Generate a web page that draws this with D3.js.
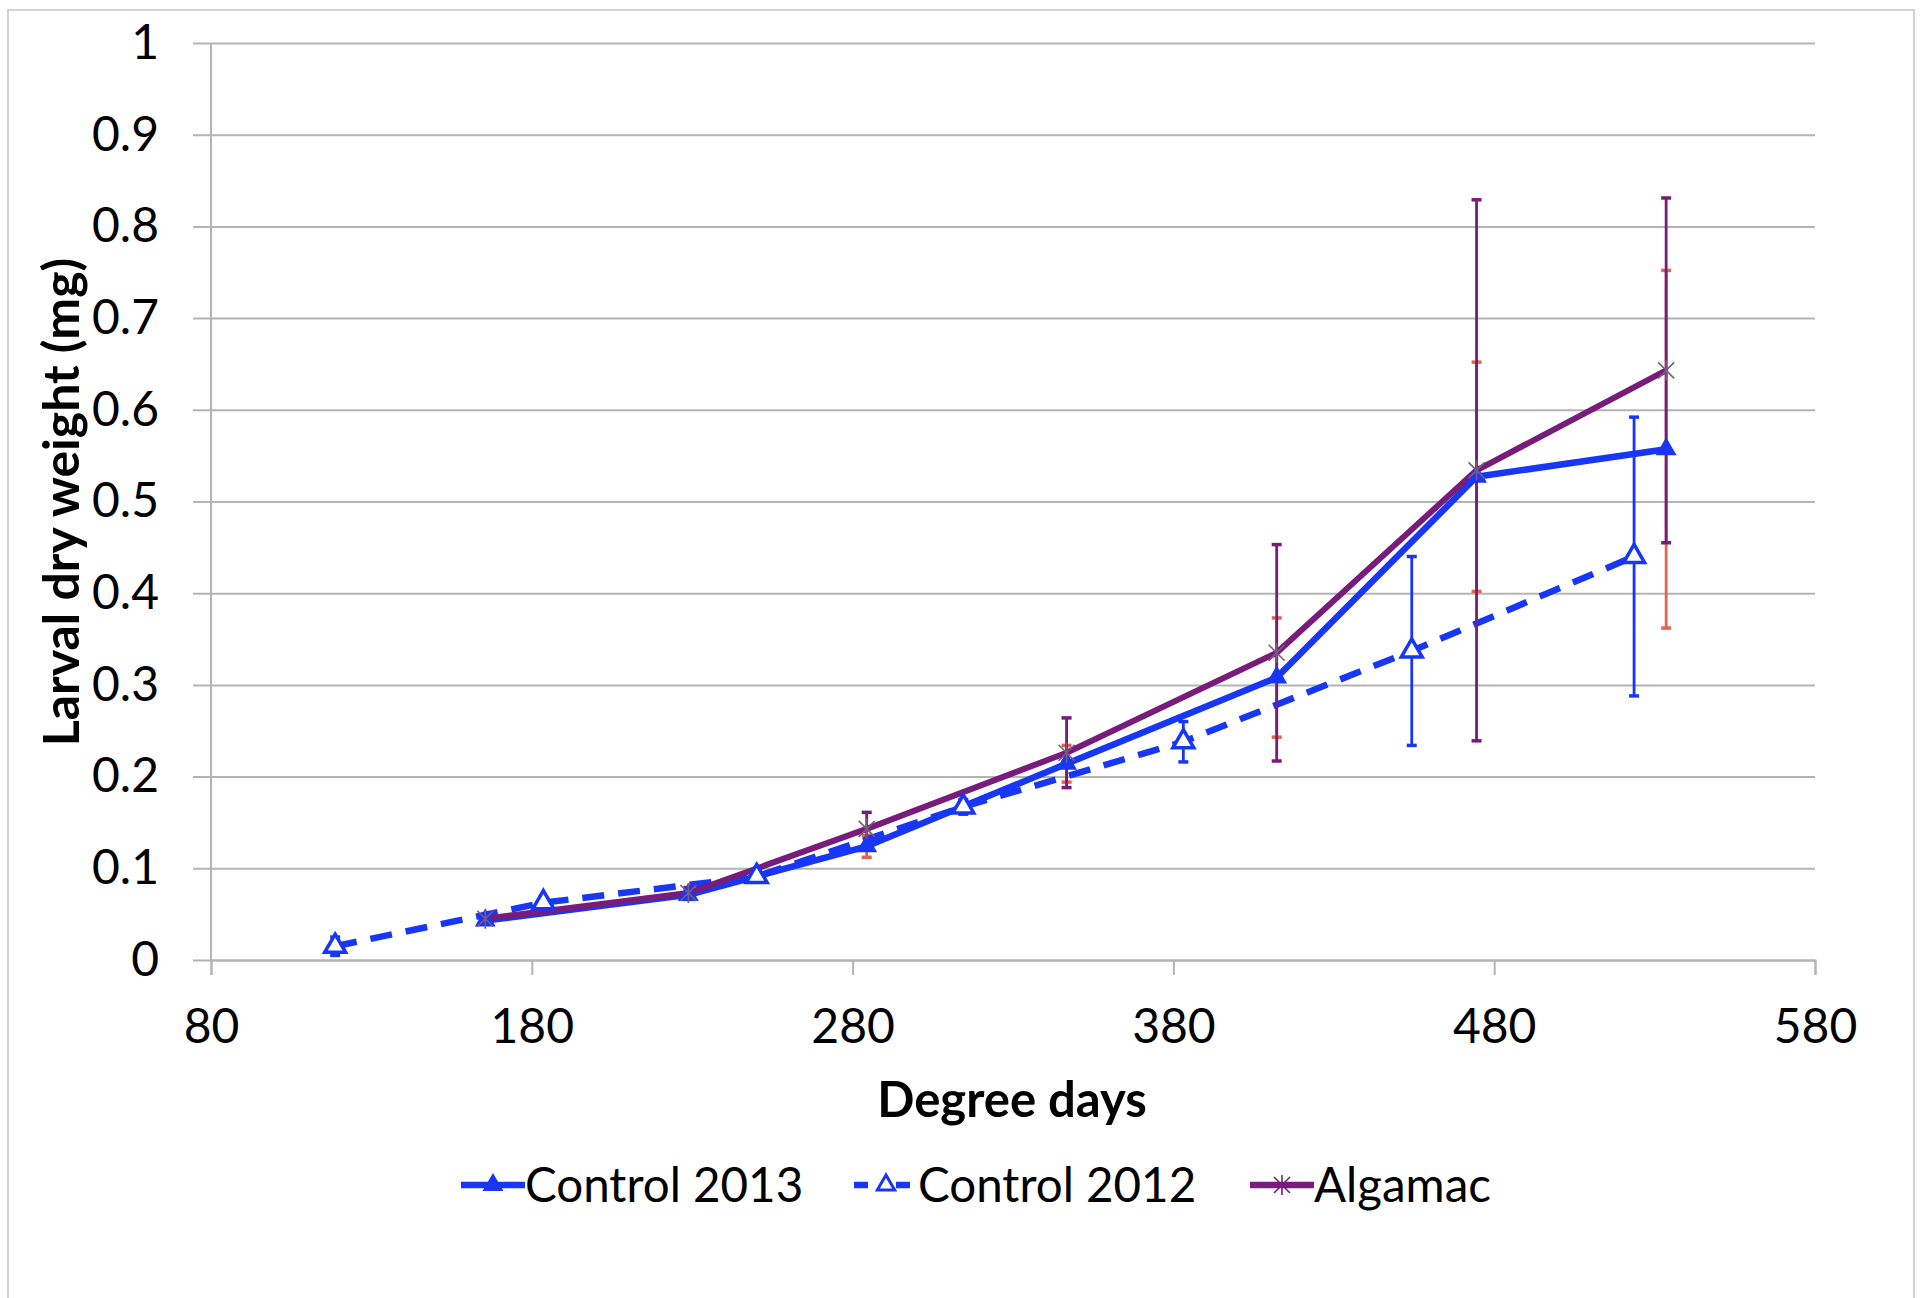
<!DOCTYPE html>
<html>
<head>
<meta charset="utf-8">
<script src="https://cdn.jsdelivr.net/npm/d3@7"></script>
<style>
  body { margin: 0; background: #fff; }
  text { font-family: Lato, "Open Sans", sans-serif; fill: #000; }
</style>
</head>
<body>
<div id="container"></div>
<script>
/* DATA */
const xTicks = [80, 180, 280, 380, 480, 580]
const yTicks = [0, 0.1, 0.2, 0.3, 0.4, 0.5, 0.6, 0.7, 0.8, 0.9, 1]

// Control 2013 and Algamac share the same sampling days
const days2013 = [165.5, 228.8, 284.4, 346.7, 412.2, 474.5, 533.6]
const control2013 = [0.043, 0.071, 0.124, 0.214, 0.308, 0.527, 0.557]
const control2013Err = [0.004, 0.005, 0.012, 0.02, 0.065, 0.125, 0.195]
const algamac = [0.045, 0.073, 0.143, 0.226, 0.335, 0.534, 0.643]
const algamacErr = [0.004, 0.006, 0.018, 0.038, 0.118, 0.295, 0.188]

const days2012 = [118.7, 183.6, 250.1, 314.5, 383.1, 454.3, 523.6]
const control2012 = [0.015, 0.0625, 0.091, 0.167, 0.238, 0.337, 0.44]
const control2012Err = [0.01, 0.006, 0.006, 0.008, 0.022, 0.103, 0.152]

const legendNames = ["Control 2013", "Control 2012", "Algamac"]

/* CONSTANTS */
const width = 1922, height = 1298
const plot = { left: 211, right: 1815, top: 43, bottom: 960 }
const blue = "#1736f5", purple = "#781c7c", orange = "#e0654e", grid = "#b4b4b4"

const svg = d3.select("#container").append("svg")
  .attr("width", width)
  .attr("height", height)

/* SCALES */
const xScale = d3.scaleLinear().domain([80, 580]).range([plot.left, plot.right])
const yScale = d3.scaleLinear().domain([0, 1]).range([plot.bottom, plot.top])

// outer chart frame (only top/left are inside the picture)
svg.append("path")
  .attr("d", `M8,${height} V10 H${width - 8} V${height}`)
  .attr("fill", "none").attr("stroke", "#d2d2d2").attr("stroke-width", 2)

/* AXES */
// horizontal gridlines + y labels
const yAxis = d3.axisLeft(yScale)
  .tickValues(yTicks)
  .tickSize(-(plot.right - 193))
  .tickPadding(34)
  .tickFormat(d3.format("~g"))
svg.append("g")
  .attr("transform", "translate(193,0)")
  .call(yAxis)
  .call(g => g.select(".domain").remove())
  .call(g => g.selectAll("line").attr("stroke", grid).attr("stroke-width", 2))
  .call(g => g.selectAll("text").style("font-size", "48px"))

// vertical axis line
svg.append("line")
  .attr("x1", plot.left).attr("x2", plot.left)
  .attr("y1", plot.top).attr("y2", plot.bottom)
  .attr("stroke", grid).attr("stroke-width", 2)

const xAxis = d3.axisBottom(xScale)
  .tickValues(xTicks)
  .tickSize(15)
  .tickPadding(34)
svg.append("g")
  .attr("transform", `translate(0,${plot.bottom})`)
  .call(xAxis)
  .call(g => g.select(".domain").attr("stroke", grid).attr("stroke-width", 2))
  .call(g => g.selectAll("line").attr("stroke", grid).attr("stroke-width", 2))
  .call(g => g.selectAll("text").style("font-size", "48px"))

// axis titles
svg.append("text")
  .attr("x", 1012).attr("y", 1117)
  .attr("text-anchor", "middle")
  .style("font-size", "49px").style("font-weight", "bold")
  .text("Degree days")

svg.append("text")
  .attr("transform", "translate(79,502) rotate(-90)")
  .attr("text-anchor", "middle")
  .style("font-size", "50px").style("font-weight", "bold")
  .text("Larval dry weight (mg)")

/* ERROR BARS */
function errorBars(xs, ys, es, color) {
  const g = svg.append("g").attr("stroke", color).attr("stroke-width", 2.8)
  xs.forEach((x, i) => {
    const cx = xScale(x), y1 = yScale(ys[i] + es[i]), y2 = yScale(ys[i] - es[i])
    g.append("line").attr("x1", cx).attr("x2", cx).attr("y1", y1).attr("y2", y2)
    g.append("line").attr("x1", cx - 5).attr("x2", cx + 5).attr("y1", y1).attr("y2", y1).attr("stroke-width", 3.5)
    g.append("line").attr("x1", cx - 5).attr("x2", cx + 5).attr("y1", y2).attr("y2", y2).attr("stroke-width", 3.5)
  })
}

/* LINES */
const line = d3.line().x(d => xScale(d[0])).y(d => yScale(d[1]))

errorBars(days2013, control2013, control2013Err, orange)

svg.append("path")
  .datum(days2013.map((d, i) => [d, control2013[i]]))
  .attr("d", line)
  .attr("fill", "none").attr("stroke", blue).attr("stroke-width", 6.5)
  .attr("stroke-linejoin", "round")

svg.append("path")
  .datum(days2012.map((d, i) => [d, control2012[i]]))
  .attr("d", line)
  .attr("fill", "none").attr("stroke", blue).attr("stroke-width", 6.5)
  .attr("stroke-dasharray", "22,14")

errorBars(days2012, control2012, control2012Err, blue)

svg.append("path")
  .datum(days2013.map((d, i) => [d, algamac[i]]))
  .attr("d", line)
  .attr("fill", "none").attr("stroke", purple).attr("stroke-width", 6)
  .attr("stroke-linejoin", "round")

errorBars(days2013, algamac, algamacErr, purple)

/* MARKERS */
const tri = d3.symbol().type(d3.symbolTriangle)

svg.selectAll(".m2013")
  .data(days2013)
  .join("path")
  .attr("class", "m2013")
  .attr("d", tri.size(190))
  .attr("transform", (d, i) => `translate(${xScale(d)},${yScale(control2013[i])})`)
  .attr("fill", blue)

svg.selectAll(".m2012")
  .data(days2012)
  .join("path")
  .attr("class", "m2012")
  .attr("d", tri.size(190))
  .attr("transform", (d, i) => `translate(${xScale(d)},${yScale(control2012[i])})`)
  .attr("fill", "#fff").attr("stroke", blue).attr("stroke-width", 3.5)

const star = "M-8,-8L8,8M-8,8L8,-8M0,-10V10"
svg.selectAll(".mAlg")
  .data(days2013)
  .join("path")
  .attr("class", "mAlg")
  .attr("d", star)
  .attr("transform", (d, i) => `translate(${xScale(d)},${yScale(algamac[i])})`)
  .attr("fill", "none").attr("stroke", "#7a5a80").attr("stroke-width", 1.6)

/* LEGEND */
const legendX = [461, 854, 1250]
const legendY = 1185
const lg = svg.selectAll(".legend")
  .data(legendNames)
  .join("g")
  .attr("class", "legend")
  .attr("transform", (d, i) => `translate(${legendX[i]},${legendY})`)

lg.append("line")
  .attr("x1", 0).attr("x2", 64)
  .attr("stroke", (d, i) => i == 2 ? purple : blue)
  .attr("stroke-width", 6.5)
  .attr("stroke-dasharray", (d, i) => i == 1 ? "14,8,0,20,14" : null)

lg.filter((d, i) => i == 0).append("path")
  .attr("d", tri.size(190)).attr("transform", "translate(32,0)").attr("fill", blue)
lg.filter((d, i) => i == 1).append("path")
  .attr("d", tri.size(130)).attr("transform", "translate(32,0)")
  .attr("fill", "#fff").attr("stroke", blue).attr("stroke-width", 3)
lg.filter((d, i) => i == 2).append("path")
  .attr("d", star).attr("transform", "translate(32,0)")
  .attr("fill", "none").attr("stroke", purple).attr("stroke-width", 1.6)

lg.append("text")
  .attr("x", 64).attr("y", 17)
  .style("font-size", "47.5px")
  .text(d => d)
</script>
</body>
</html>
